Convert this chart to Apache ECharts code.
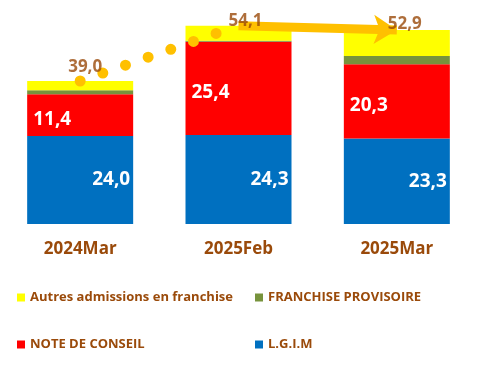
<!DOCTYPE html>
<html><head><meta charset="utf-8">
<script src="https://cdn.jsdelivr.net/npm/echarts@6/dist/echarts.min.js"></script>
<style>html,body{margin:0;padding:0;background:#fff}#c{width:482px;height:369px}</style>
</head><body><div id="c"></div>
<script>
const categories = ['2024Mar', '2025Feb', '2025Mar'];
const lgim = [24.0, 24.3, 23.3];
const noteConseil = [11.4, 25.4, 20.3];
const franchiseProvisoire = [1.1, 0.3, 2.2];
const autres = [2.5, 4.1, 7.1];
const totals = [39.0, 54.1, 52.9];
const dotTrend = [39.0, 54.1, null];

const BROWN = '#9A4A0A';
const FONT = '"Open Sans", "Noto Sans", sans-serif';
const totalOffsets = [[5, 0], [7, 9], [8, 8]];

const chart = echarts.init(document.getElementById('c'));
const legendBase = {
  orient: 'horizontal', itemWidth: 8, itemHeight: 8, itemGap: 4, icon: 'rect',
  textStyle: {color: BROWN, fontFamily: FONT, fontWeight: 'bold', fontSize: 13}
};
const fmt = p => p.value.toFixed(1).replace('.', ',');
chart.setOption({
  animation: false,
  grid: {left: 1, right: 6, top: 4, bottom: 145},
  legend: [
    Object.assign({left: 12, top: 286, data: ['Autres admissions en franchise']}, legendBase),
    Object.assign({left: 250, top: 286, data: ['FRANCHISE PROVISOIRE']}, legendBase),
    Object.assign({left: 12, top: 333, data: ['NOTE DE CONSEIL']}, legendBase),
    Object.assign({left: 250, top: 333, data: ['L.G.I.M']}, legendBase)
  ],
  xAxis: {
    type: 'category', data: categories,
    axisLine: {show: false}, axisTick: {show: false},
    axisLabel: {color: BROWN, fontFamily: FONT, fontWeight: 'bold', fontSize: 17, margin: 17}
  },
  yAxis: {type: 'value', min: 0, max: 60, show: false, splitLine: {show: false}},
  series: [
    {name: 'L.G.I.M', type: 'bar', stack: 's', data: lgim, barWidth: 106,
     itemStyle: {color: '#0070C0'},
     label: {show: true, position: 'insideRight', distance: 3, color: '#fff', fontFamily: FONT, fontWeight: 'bold', fontSize: 19, formatter: fmt}},
    {name: 'NOTE DE CONSEIL', type: 'bar', stack: 's', data: noteConseil,
     itemStyle: {color: '#FF0000'},
     label: {show: true, position: 'insideLeft', distance: 6, offset: [0, 4], color: '#fff', fontFamily: FONT, fontWeight: 'bold', fontSize: 19, formatter: fmt}},
    {name: 'FRANCHISE PROVISOIRE', type: 'bar', stack: 's', data: franchiseProvisoire,
     itemStyle: {color: '#77933C'}},
    {name: 'Autres admissions en franchise', type: 'bar', stack: 's', data: autres,
     itemStyle: {color: '#FFFF00'}},
    {type: 'line', data: dotTrend, symbol: 'none', silent: true, z: 3,
     lineStyle: {color: '#FFC000', width: 11, type: [0, 24], cap: 'round'},
     markLine: {silent: true, symbol: ['none', 'arrow'], symbolSize: [22, 23],
       label: {show: false},
       lineStyle: {color: '#FFC000', width: 9, type: 'solid', opacity: 1},
       data: [[{coord: [categories[1], totals[1]]}, {coord: [categories[2], totals[2]]}]]}},
    {type: 'scatter', symbolSize: 0, silent: true, z: 10,
     data: totals.map((v, i) => ({value: v, label: {offset: totalOffsets[i]}})),
     label: {show: true, position: 'top', color: BROWN, fontFamily: FONT, fontWeight: 'bold', fontSize: 17, formatter: fmt}}
  ]
});
</script></body></html>
